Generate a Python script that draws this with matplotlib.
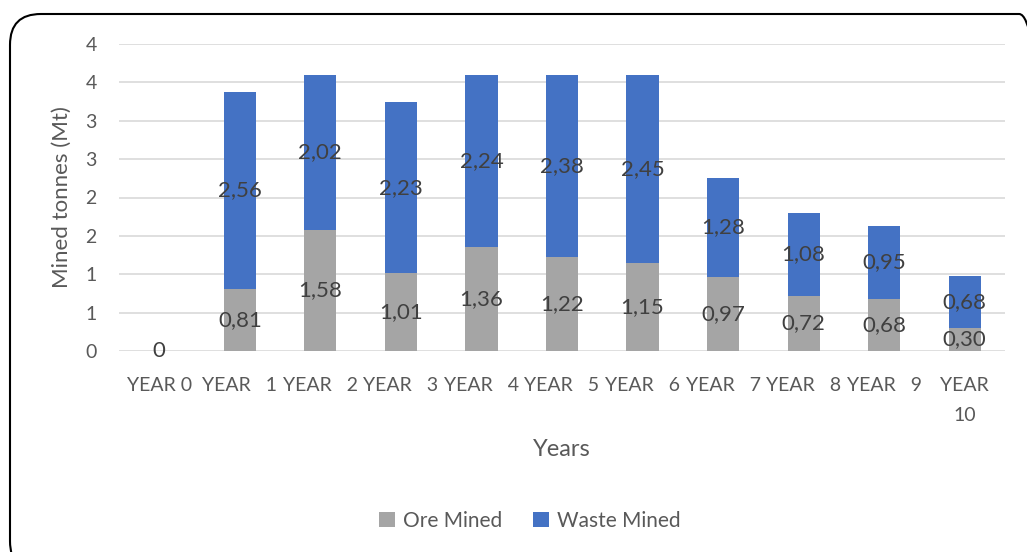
import matplotlib.pyplot as plt
import numpy as np
from matplotlib.patches import FancyBboxPatch

plt.rcParams['font.family'] = ['Lato', 'DejaVu Sans']

years = ['YEAR 0', 'YEAR   1', 'YEAR   2', 'YEAR   3', 'YEAR   4', 'YEAR   5',
         'YEAR   6', 'YEAR   7', 'YEAR   8', 'YEAR   9', 'YEAR\n10']
ore = [0.00, 0.81, 1.58, 1.01, 1.36, 1.22, 1.15, 0.97, 0.72, 0.68, 0.30]
waste = [0.00, 2.56, 2.02, 2.23, 2.24, 2.38, 2.45, 1.28, 1.08, 0.95, 0.68]
yticks = [0, 0.5, 1, 1.5, 2, 2.5, 3, 3.5, 4]
ytick_labels = ['0', '1', '1', '2', '2', '3', '3', '4', '4']

grey = '#A5A5A5'
blue = '#4472C4'
txt = '#595959'

W, H = 1027, 552
fig = plt.figure(figsize=(W / 100, H / 100), dpi=100)
ax = fig.add_axes([119 / W, 1 - 351 / H, 886 / W, 307 / H])

x = np.arange(len(years))
ax.bar(x, ore, width=0.4, color=grey, label='Ore Mined', zorder=2)
ax.bar(x, waste, width=0.4, bottom=ore, color=blue, label='Waste Mined', zorder=2)

for i in range(len(years)):
    ax.text(x[i], ore[i] / 2, f'{ore[i]:.2f}'.replace('.', ',') if ore[i] else '0',
            ha='center', va='center', fontsize=16, color='#404040', zorder=3)
    if waste[i]:
        ax.text(x[i], ore[i] + waste[i] / 2, f'{waste[i]:.2f}'.replace('.', ','),
                ha='center', va='center', fontsize=16, color='#404040', zorder=3)

ax.set_xlim(-0.5, len(years) - 0.5)
ax.set_ylim(0, 4)
ax.set_yticks(yticks)
ax.set_yticklabels(ytick_labels)
ax.set_xticks(x)
ax.set_xticklabels(years, linespacing=1.9)
ax.tick_params(axis='both', length=0, labelsize=14, colors=txt)
ax.tick_params(axis='y', pad=16)
ax.tick_params(axis='x', pad=19)
ax.grid(axis='y', color='#D9D9D9', linewidth=1.2, zorder=0)
for s in ax.spines.values():
    s.set_visible(False)

ax.set_xlabel('Years', fontsize=17, color=txt, labelpad=11)
ax.set_ylabel('Mined tonnes (Mt)', fontsize=16, color=txt, labelpad=10)

fig.legend(loc='center', bbox_to_anchor=(530 / W, 1 - 521 / H), ncol=2, frameon=False,
           fontsize=15, labelcolor=txt, handlelength=0.75, handleheight=0.75,
           handletextpad=0.4, columnspacing=1.5)

box = FancyBboxPatch((10 / W, -20 / H), 1040 / W, (538 + 20) / H,
                     boxstyle='round,pad=0,rounding_size=0.03',
                     transform=fig.transFigure, fill=False, edgecolor='black',
                     linewidth=1.5, mutation_aspect=W / H)
fig.patches.append(box)

fig.savefig('out.png', dpi=100)
